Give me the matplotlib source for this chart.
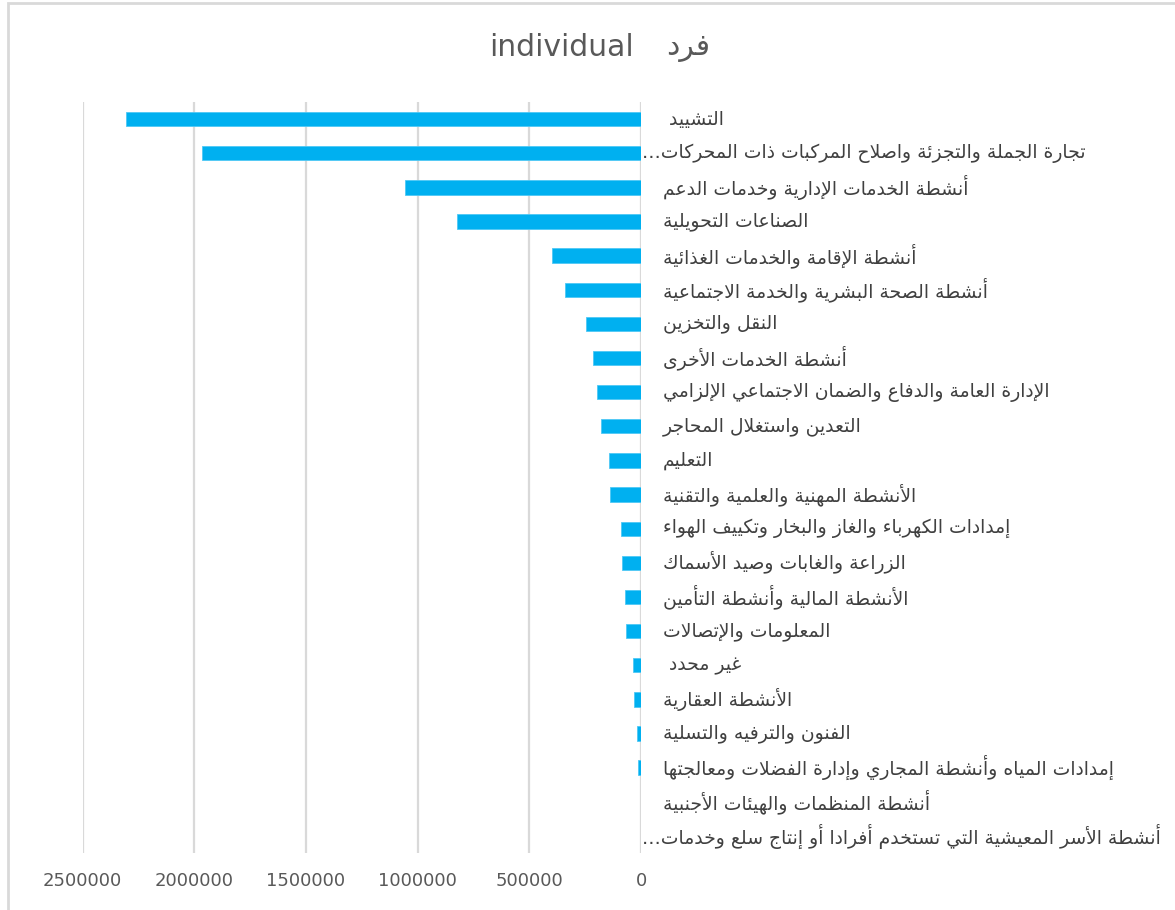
import matplotlib
matplotlib.use("Agg")
import matplotlib.pyplot as plt
import matplotlib.transforms as mtransforms
from matplotlib.patches import Rectangle
import numpy as np

# categories, top to bottom
categories = [
    "التشييد ",
    "تجارة الجملة والتجزئة واصلاح المركبات ذات المحركات…",
    "أنشطة الخدمات الإدارية وخدمات الدعم",
    "الصناعات التحويلية",
    "أنشطة الإقامة والخدمات الغذائية",
    "أنشطة الصحة البشرية والخدمة الاجتماعية",
    "النقل والتخزين",
    "أنشطة الخدمات الأخرى",
    "الإدارة العامة والدفاع والضمان الاجتماعي الإلزامي",
    "التعدين واستغلال المحاجر",
    "التعليم",
    "الأنشطة المهنية والعلمية والتقنية",
    "إمدادات الكهرباء والغاز والبخار وتكييف الهواء",
    "الزراعة والغابات وصيد الأسماك",
    "الأنشطة المالية وأنشطة التأمين",
    "المعلومات والإتصالات",
    "غير محدد ",
    "الأنشطة العقارية",
    "الفنون والترفيه والتسلية",
    "إمدادات المياه وأنشطة المجاري وإدارة الفضلات ومعالجتها",
    "أنشطة المنظمات والهيئات الأجنبية",
    "أنشطة الأسر المعيشية التي تستخدم أفرادا أو إنتاج سلع وخدمات…",
]

values = [2307000, 1963000, 1056000, 825000, 399000, 339000, 245000, 215000,
          198000, 179000, 143000, 137000, 90000, 84000, 72000, 66000,
          38000, 30000, 20000, 12000, 1500, 500]

xticks = [0, 500000, 1000000, 1500000, 2000000, 2500000]
title_ar = "فرد"
title_en = "individual"

# --- tiny arabic shaper (no libraqm in matplotlib) ---
# char -> (isolated form code, number of forms: 1 none, 2 right-joining, 4 dual)
_forms = {
    'ء': (0xFE80, 1), 'آ': (0xFE81, 2), 'أ': (0xFE83, 2), 'ؤ': (0xFE85, 2),
    'إ': (0xFE87, 2), 'ئ': (0xFE89, 4), 'ا': (0xFE8D, 2), 'ب': (0xFE8F, 4),
    'ة': (0xFE93, 2), 'ت': (0xFE95, 4), 'ث': (0xFE99, 4), 'ج': (0xFE9D, 4),
    'ح': (0xFEA1, 4), 'خ': (0xFEA5, 4), 'د': (0xFEA9, 2), 'ذ': (0xFEAB, 2),
    'ر': (0xFEAD, 2), 'ز': (0xFEAF, 2), 'س': (0xFEB1, 4), 'ش': (0xFEB5, 4),
    'ص': (0xFEB9, 4), 'ض': (0xFEBD, 4), 'ط': (0xFEC1, 4), 'ظ': (0xFEC5, 4),
    'ع': (0xFEC9, 4), 'غ': (0xFECD, 4), 'ف': (0xFED1, 4), 'ق': (0xFED5, 4),
    'ك': (0xFED9, 4), 'ل': (0xFEDD, 4), 'م': (0xFEE1, 4), 'ن': (0xFEE5, 4),
    'ه': (0xFEE9, 4), 'و': (0xFEED, 2), 'ى': (0xFEEF, 2), 'ي': (0xFEF1, 4),
}
_lamalef = {'آ': 0xFEF5, 'أ': 0xFEF7, 'إ': 0xFEF9, 'ا': 0xFEFB}


def shape(text):
    # merge lam-alef first
    chars = []
    i = 0
    while i < len(text):
        c = text[i]
        if c == 'ل' and i + 1 < len(text) and text[i + 1] in _lamalef:
            chars.append(('LA', text[i + 1]))
            i += 2
        else:
            chars.append(c)
            i += 1

    def nforms(c):
        if isinstance(c, tuple):
            return 2
        return _forms.get(c, (0, 0))[1]

    out = []
    for k, c in enumerate(chars):
        n = nforms(c)
        if n == 0:
            out.append(c)
            continue
        prev = chars[k - 1] if k > 0 else None
        nxt = chars[k + 1] if k + 1 < len(chars) else None
        join_prev = prev is not None and nforms(prev) == 4
        join_next = n == 4 and nxt is not None and nforms(nxt) > 0
        if isinstance(c, tuple):
            base = _lamalef[c[1]]
            out.append(chr(base + (1 if join_prev else 0)))
            continue
        base = _forms[c][0]
        if n == 1:
            out.append(chr(base))
        elif n == 2:
            out.append(chr(base + (1 if join_prev else 0)))
        else:
            if join_prev and join_next:
                off = 3
            elif join_prev:
                off = 1
            elif join_next:
                off = 2
            else:
                off = 0
            out.append(chr(base + off))
    return ''.join(out)[::-1]


plt.rcParams['font.family'] = ['DejaVu Sans']

fig = plt.figure(figsize=(11.75, 9.10), dpi=100)
ax = fig.add_axes([82.5 / 1175, 1 - 853 / 910, (641 - 82.5) / 1175, (853 - 102) / 910])

y = np.arange(len(categories))
ax.barh(y, values, height=0.42, color='#00B0F0', edgecolor='#4FC8F5', linewidth=0.6, zorder=3)

ax.set_xlim(2500000, 0)
ax.set_ylim(len(categories) - 0.5, -0.5)

ax.set_xticks(xticks)
ax.set_xticklabels([str(v) for v in xticks], fontsize=13, color='#595959')
ax.tick_params(axis='x', length=0, pad=14)
ax.grid(axis='x', color='#D9D9D9', linewidth=1.6, zorder=0)
ax.set_yticks([])

# category labels right of the zero line; truncated ones start closer to the axis
base_tr = mtransforms.blended_transform_factory(ax.transAxes, ax.transData)
for i, c in enumerate(categories):
    dx = 1 / 100 if c.endswith('…') else 22 / 100
    tr = base_tr + mtransforms.ScaledTranslation(dx, 0, fig.dpi_scale_trans)
    ax.text(1.0, i, shape(c), transform=tr, ha='left', va='center',
            fontsize=13.5, color='#404040', clip_on=False)

for s in ax.spines.values():
    s.set_visible(False)

# title: arabic word on the right
fig.text(0.5395, 1 - 48 / 910, title_en, ha='right', va='center', fontsize=21.5, color='#595959')
fig.text(0.5665, 1 - 48 / 910, shape(title_ar), ha='left', va='center', fontsize=21.5, color='#595959')

# chart border (left and top edges visible)
fig.patches.append(Rectangle((8 / 1175, -0.1), 1.2, 1 - 3 / 910 + 0.1, transform=fig.transFigure,
                             fill=False, edgecolor='#D9D9D9', linewidth=2))

plt.savefig('out.png', dpi=100)
